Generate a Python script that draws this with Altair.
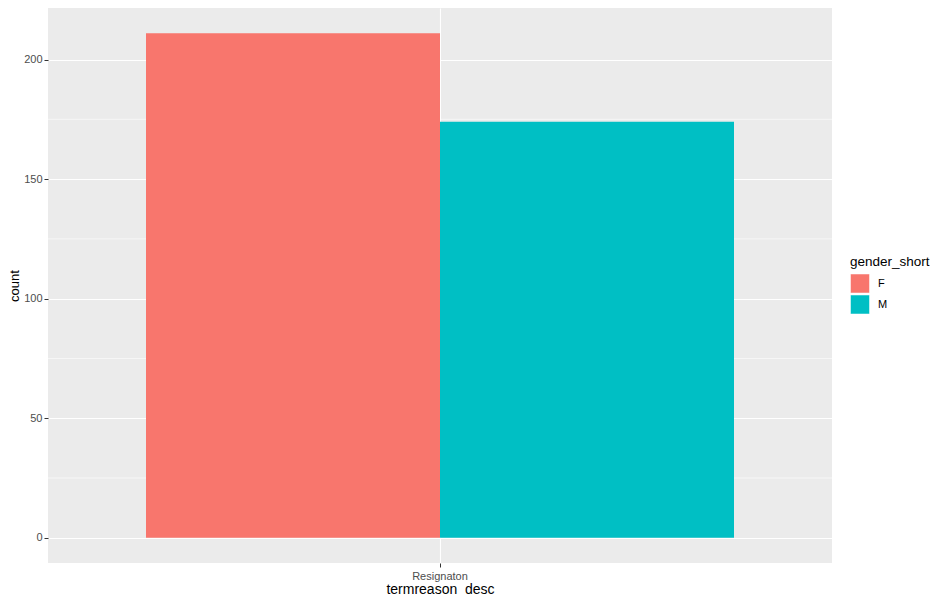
import altair as alt
import pandas as pd

categories = ["Resignaton"]
genders = ["F", "M"]
counts = [211, 174]
y_breaks = [0, 50, 100, 150, 200]
y_minor = [25, 75, 125, 175]
colors = ["#F8766D", "#00BFC4"]

df = pd.DataFrame({
    "termreason_desc": [categories[0]] * len(genders),
    "gender_short": genders,
    "count": counts,
})
minor_df = pd.DataFrame({"v": y_minor})

FONT = "Liberation Sans"
ydom = [-10.55, 221.55]
yscale = alt.Scale(domain=ydom, nice=False, zero=False)

minor = alt.Chart(minor_df).mark_rule(color="white", strokeWidth=0.6).encode(
    y=alt.Y("v:Q", scale=yscale, title="count", axis=alt.Axis(values=y_breaks))
)

bars = alt.Chart(df).mark_bar().encode(
    x=alt.X(
        "termreason_desc:N",
        scale=alt.Scale(paddingInner=0, paddingOuter=1 / 6),
        axis=alt.Axis(title="termreason_desc", labelAngle=0, bandPosition=0.5,
                      labelPadding=3, titlePadding=1),
    ),
    xOffset=alt.XOffset("gender_short:N", scale=alt.Scale(paddingInner=0, paddingOuter=0)),
    y=alt.Y("count:Q", stack=None, scale=yscale, title="count",
            axis=alt.Axis(values=y_breaks)),
    y2=alt.datum(0),
    color=alt.Color(
        "gender_short:N",
        scale=alt.Scale(domain=genders, range=colors),
        legend=alt.Legend(
            title="gender_short", orient="none", legendX=802, legendY=247,
            symbolType="square", symbolSize=361, symbolStrokeColor="white",
            symbolStrokeWidth=0.5, symbolOpacity=1,
            titleFontSize=13.5, titleFontWeight="normal", titleColor="black",
            titleFont=FONT, labelFont=FONT, labelFontSize=11,
            labelColor="black", titlePadding=5, rowPadding=-2, labelOffset=8,
        ),
    ),
)

chart = alt.layer(minor, bars).properties(
    width=784, height=555, autosize="none", background="white",
    padding={"left": 40, "top": 0, "right": 100, "bottom": 33},
).configure_view(
    fill="#EBEBEB", stroke=None
).configure_axis(
    grid=True, gridColor="white", gridWidth=1.1, domain=False,
    tickSize=4, tickColor="#333333", labelColor="#4D4D4D",
    labelFontSize=11, labelPadding=2, titleFontSize=14,
    titleFontWeight="normal", titleColor="black",
    labelFont=FONT, titleFont=FONT,
).configure_axisY(titlePadding=2, labelPadding=2, titleFontSize=13)

chart.save("out.html", embed_options={"renderer": "svg", "actions": False})
